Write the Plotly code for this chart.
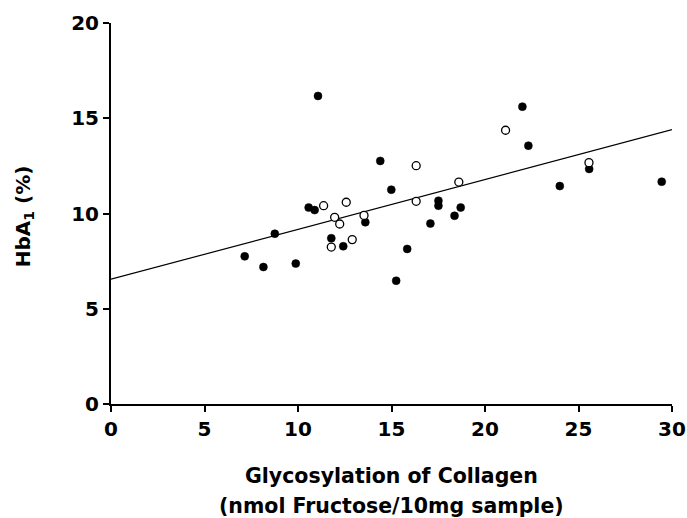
import plotly.graph_objects as go

# Filled circles
filled_x = [11.07, 14.4, 14.99, 10.57, 10.89, 8.76, 7.15, 8.15, 9.88, 11.78, 12.42, 13.6,
            15.25, 15.84, 17.51, 17.51, 17.08, 22.0, 22.32, 18.7, 18.37, 24.0, 25.57, 29.45]
filled_y = [16.17, 12.76, 11.25, 10.31, 10.18, 8.94, 7.75, 7.19, 7.37, 8.70, 8.28, 9.54,
            6.47, 8.14, 10.67, 10.41, 9.47, 15.61, 13.56, 10.31, 9.88, 11.44, 12.34, 11.67]

# Open circles
open_x = [11.37, 12.58, 11.96, 12.23, 11.78, 12.9, 13.53, 16.32, 16.32, 21.1, 18.6, 25.56]
open_y = [10.41, 10.59, 9.8, 9.45, 8.24, 8.63, 9.9, 12.51, 10.64, 14.37, 11.65, 12.67]

# Regression line end points
line_x = [0, 30]
line_y = [6.55, 14.4]

x_ticks = [0, 5, 10, 15, 20, 25, 30]
y_ticks = [0, 5, 10, 15, 20]

fig = go.Figure()
fig.add_trace(go.Scatter(x=line_x, y=line_y, mode="lines",
                         line=dict(color="black", width=1.2), showlegend=False))
fig.add_trace(go.Scatter(x=filled_x, y=filled_y, mode="markers",
                         marker=dict(color="black", size=8, line=dict(color="black", width=0.5)),
                         showlegend=False))
fig.add_trace(go.Scatter(x=open_x, y=open_y, mode="markers",
                         marker=dict(color="white", size=8, line=dict(color="black", width=1.3)),
                         showlegend=False))

fam = "DejaVu Sans, Arial, sans-serif"
tick_font = dict(family=fam, size=20, color="black", weight="bold")
title_font = dict(family=fam, size=20.5, color="black", weight="bold")
ytitle_font = dict(family=fam, size=20, color="black", weight="bold")

fig.update_layout(
    width=687, height=518, autosize=False,
    margin=dict(l=111, r=15, t=23, b=114),
    paper_bgcolor="white", plot_bgcolor="white",
    font=dict(family=fam, size=18, color="black"),
    xaxis=dict(range=[0, 30], tickvals=x_ticks, ticks="outside", ticklen=6, tickwidth=1.5,
               tickcolor="black", showline=True, linecolor="black", linewidth=2,
               showgrid=False, zeroline=False, tickfont=tick_font, fixedrange=True,
               automargin=False),
    yaxis=dict(range=[0, 20], tickvals=y_ticks, ticks="outside", ticklen=6, tickwidth=1.5,
               tickcolor="black", showline=True, linecolor="black", linewidth=2,
               showgrid=False, zeroline=False, tickfont=tick_font, fixedrange=True,
               automargin=False),
    annotations=[
        dict(text="Glycosylation of Collagen", x=0.5, y=-0.19, xref="paper", yref="paper",
             showarrow=False, font=title_font, yanchor="middle"),
        dict(text="(nmol Fructose/10mg sample)", x=0.5, y=-0.268, xref="paper", yref="paper",
             showarrow=False, font=title_font, yanchor="middle"),
        dict(text="HbA<sub>1</sub> (%)", x=-0.155, y=0.493, xref="paper", yref="paper",
             showarrow=False, font=ytitle_font, textangle=-90, xanchor="center", yanchor="middle"),
    ],
)

fig.write_html("out.html", config={"displayModeBar": False, "responsive": False},
               post_script="document.body.style.margin='0px';document.body.style.overflow='hidden';")
